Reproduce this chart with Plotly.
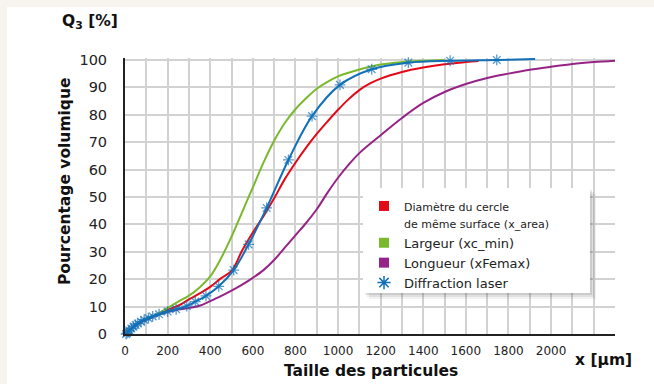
import plotly.graph_objects as go

# ---------------- data (x in µm, Q3 in %) ----------------
area_x = [0, 20, 50, 100, 150, 200, 250, 300, 350, 400, 450, 500, 550, 600, 650, 700, 750, 800,
          850, 900, 950, 1000, 1050, 1100, 1150, 1200, 1300, 1400, 1500, 1600, 1660]
area_y = [0, 1.3, 3.3, 5.3, 7.0, 8.8, 10.3, 12.6, 14.8, 17.2, 20.3, 23.0, 30.5, 37.0, 43.0, 49.5, 56.5, 62.5,
          68.0, 73.0, 77.5, 81.8, 85.7, 89.0, 91.4, 93.2, 95.6, 97.2, 98.4, 99.2, 99.6]

width_x = [0, 20, 50, 100, 150, 200, 250, 300, 350, 400, 450, 500, 550, 600, 650, 700, 750, 800,
           850, 900, 950, 1000, 1100, 1200, 1300, 1400, 1500]
width_y = [0, 1.3, 3.3, 5.4, 7.2, 9.5, 11.8, 14.0, 17.0, 21.0, 27.5, 35.5, 44.5, 53.5, 62.5, 70.5, 77.0, 82.0,
           86.0, 89.5, 92.0, 94.0, 96.5, 98.3, 99.2, 99.7, 100.0]

length_x = [0, 20, 50, 100, 150, 200, 250, 300, 350, 400, 450, 500, 550, 600, 650, 700, 750, 800, 850,
            900, 950, 1000, 1050, 1100, 1200, 1300, 1400, 1500, 1600, 1700, 1800, 1900, 2000, 2100, 2200, 2300]
length_y = [0, 1.3, 3.2, 5.2, 6.8, 8.0, 8.9, 9.5, 10.3, 12.0, 13.8, 15.8, 18.0, 20.5, 23.3, 27.0, 31.5, 36.0, 40.5,
            45.5, 51.5, 57.0, 61.8, 66.0, 72.5, 78.8, 84.3, 88.3, 91.2, 93.4, 95.0, 96.4, 97.5, 98.5, 99.2, 99.7]

laser_x = [5, 10, 15, 20, 30, 40, 50, 60, 75, 90, 110, 130, 160, 200, 240, 290, 330, 380, 440, 510, 580,
           665, 767, 878, 1009, 1158, 1330, 1526, 1745, 1925]
laser_y = [0.0, 0.3, 0.8, 1.3, 2.0, 2.7, 3.3, 3.8, 4.5, 5.2, 5.8, 6.4, 7.2, 8.2, 9.0, 10.2, 11.8, 13.9, 17.4, 23.3, 32.7,
           46.0, 63.5, 79.5, 90.9, 96.6, 99.0, 99.7, 100.0, 100.3]

x_tick_vals = list(range(0, 2001, 200))
x_grid_minor = [v for v in range(100, 2301, 100) if v not in x_tick_vals]
y_tick_vals = list(range(0, 101, 10))

names = ["<span style='font-size:11px'>Diamètre du cercle<br>de même surface (x_area)</span>",
         "Largeur (xc_min)", "Longueur (xFemax)", "Diffraction laser"]

RED, GREEN, PURPLE, BLUE = "#e30a17", "#7ab82c", "#962486", "#1170b8"
FONT = "DejaVu Sans"
GRID = "#d2d2d2"

# ---------------- figure ----------------
fig = go.Figure()
fig.add_trace(go.Scatter(x=area_x, y=area_y, mode="lines", line=dict(color=RED, width=2),
                         line_shape="spline", showlegend=False))
fig.add_trace(go.Scatter(x=width_x, y=width_y, mode="lines", line=dict(color=GREEN, width=2),
                         line_shape="spline", showlegend=False))
fig.add_trace(go.Scatter(x=length_x, y=length_y, mode="lines", line=dict(color=PURPLE, width=2),
                         line_shape="spline", showlegend=False))
sizes = [9] * (len(laser_x) - 1) + [0]
fig.add_trace(go.Scatter(x=laser_x, y=laser_y, mode="lines+markers", line=dict(color=BLUE, width=2),
                         line_shape="spline",
                         marker=dict(symbol="asterisk-open", size=sizes, color=BLUE,
                                     line=dict(color=BLUE, width=1.3)),
                         showlegend=False, cliponaxis=False))

# legend entries
for nm, sym, col in zip(names, ["square", "square", "square", "asterisk-open"], [RED, GREEN, PURPLE, BLUE]):
    fig.add_trace(go.Scatter(x=[None], y=[None], mode="markers", name=nm,
                             marker=dict(symbol=sym, size=10 if sym == "square" else 11, color=col,
                                         line=dict(color=col, width=1.5 if sym != "square" else 0))))

L, R, T, B = 125, 39, 58, 50
W, H = 654, 384
pw, ph = W - L - R, H - T - B


def px(x):
    return (x - L) / pw


def py(y):
    return (H - B - y) / ph


# legend box with shadow
bx0, bx1, by0, by1 = 363, 590, 188, 293
shapes = []
for off, a in [(6, 0.05), (4, 0.07), (2, 0.09)]:
    shapes.append(dict(type="rect", xref="paper", yref="paper", layer="above",
                       x0=px(bx0 + off), x1=px(bx1 + off), y0=py(by1 + off), y1=py(by0 + off),
                       fillcolor=f"rgba(0,0,0,{a})", line=dict(width=0)))
shapes.append(dict(type="rect", xref="paper", yref="paper", layer="above",
                   x0=px(bx0), x1=px(bx1), y0=py(by1), y1=py(by0),
                   fillcolor="white", line=dict(width=0)))
# white card over beige page border
shapes.append(dict(type="rect", xref="paper", yref="paper", layer="below",
                   x0=px(7), x1=px(W + 5), y0=py(H + 5), y1=py(7),
                   fillcolor="white", line=dict(width=0)))

ann_font = dict(size=15.5, family=FONT, color="#111")
fig.update_layout(
    width=W, height=H, autosize=False,
    margin=dict(l=L, r=R, t=T, b=B),
    paper_bgcolor="#f7f3ee", plot_bgcolor="white",
    font=dict(family=FONT, color="#222"),
    shapes=shapes,
    legend=dict(x=px(bx0 + 1), y=py(by0 + 3), xanchor="left", yanchor="top",
                bgcolor="rgba(0,0,0,0)", font=dict(size=13, family=FONT, color="#222"),
                valign="top", itemwidth=30, tracegroupgap=0),
    xaxis=dict(range=[0, 2300], tickvals=x_tick_vals,
               showgrid=True, gridcolor=GRID, gridwidth=1.5, zeroline=False,
               minor=dict(tickvals=x_grid_minor, showgrid=True, gridcolor=GRID, gridwidth=1.5, ticks=""),
               showline=True, linecolor="#222", linewidth=2, ticks="",
               ticklabelstandoff=5, tickfont=dict(size=12, family=FONT, color="#222")),
    yaxis=dict(range=[0, 100.7], tickvals=y_tick_vals,
               showgrid=True, gridcolor=GRID, gridwidth=1.5, zeroline=False,
               showline=True, linecolor="#222", linewidth=2, ticks="",
               ticklabelstandoff=13, tickfont=dict(size=14.5, family=FONT, color="#222")),
    annotations=[
        dict(text="<b>Q<sub>3</sub> [%]</b>", xref="paper", yref="paper", x=px(90), y=py(22),
             xanchor="center", yanchor="middle", showarrow=False, font=ann_font),
        dict(text="<b>Pourcentage volumique</b>", xref="paper", yref="paper", x=px(65), y=py(181),
             xanchor="center", yanchor="middle", textangle=-90, showarrow=False, font=ann_font),
        dict(text="<b>Taille des particules</b>", xref="paper", yref="paper", x=px(371), y=py(371),
             xanchor="center", yanchor="middle", showarrow=False, font=ann_font),
        dict(text="<b>x [µm]</b>", xref="paper", yref="paper", x=px(603), y=py(360),
             xanchor="center", yanchor="middle", showarrow=False, font=ann_font),
    ],
)

fig.write_html("out.html")
